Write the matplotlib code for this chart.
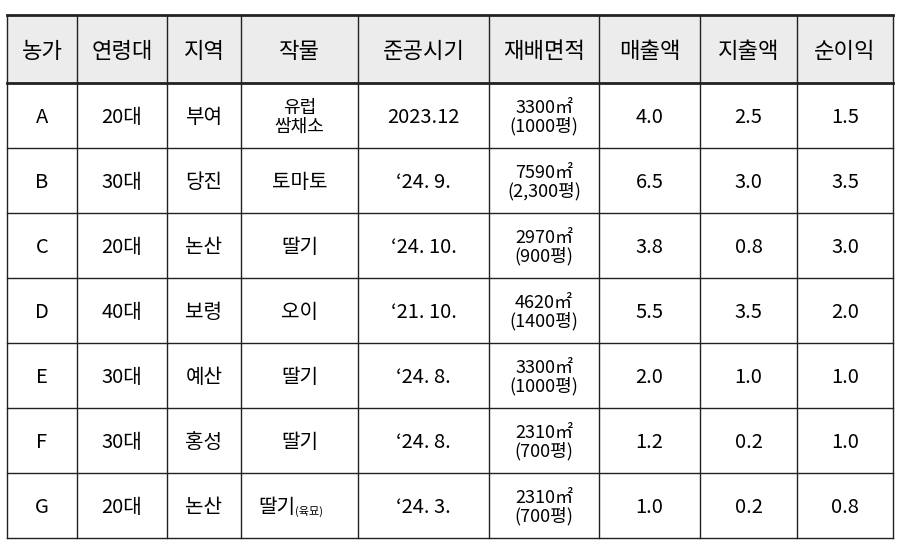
import matplotlib.pyplot as plt

plt.rcParams['font.family'] = ['Noto Sans CJK KR', 'DejaVu Sans']

headers = ['농가', '연령대', '지역', '작물', '준공시기', '재배면적', '매출액', '지출액', '순이익']
farms = ['A', 'B', 'C', 'D', 'E', 'F', 'G']
ages = ['20대', '30대', '20대', '40대', '30대', '30대', '20대']
regions = ['부여', '당진', '논산', '보령', '예산', '홍성', '논산']
crops = ['유럽\n쌈채소', '토마토', '딸기', '오이', '딸기', '딸기', '딸기']
dates = ['2023.12', '‘24. 9.', '‘24. 10.', '‘21. 10.', '‘24. 8.', '‘24. 8.', '‘24. 3.']
areas = ['3300㎡\n(1000평)', '7590㎡\n(2,300평)', '2970㎡\n(900평)', '4620㎡\n(1400평)',
         '3300㎡\n(1000평)', '2310㎡\n(700평)', '2310㎡\n(700평)']
sales = ['4.0', '6.5', '3.8', '5.5', '2.0', '1.2', '1.0']
costs = ['2.5', '3.0', '0.8', '3.5', '1.0', '0.2', '0.2']
profits = ['1.5', '3.5', '3.0', '2.0', '1.0', '1.0', '0.8']

cols = [7, 77, 167, 241, 358, 489, 599, 700, 797, 893]
rows = [15, 83, 148, 213, 278, 343, 408, 473, 538]

fig = plt.figure(figsize=(8.99, 5.46), dpi=100)
ax = fig.add_axes([0, 0, 1, 1])
ax.set_xlim(0, 899)
ax.set_ylim(546, 0)
ax.axis('off')

ax.fill_between([cols[0], cols[-1]], rows[0], rows[1], color='#ececec', zorder=0)

for x in cols:
    ax.plot([x, x], [rows[0], rows[-1]], color='#222222', lw=1.0)
for i, y in enumerate(rows):
    lw = 2.0 if i in (0, 1) else 1.0
    ax.plot([cols[0], cols[-1]], [y, y], color='#222222', lw=lw)

def cx(j):
    return (cols[j] + cols[j + 1]) / 2

def cy(i):
    return (rows[i] + rows[i + 1]) / 2 + 2

for j, h in enumerate(headers):
    ax.text(cx(j), cy(0), h, ha='center', va='center', fontsize=16)

columns = [farms, ages, regions, crops, dates, areas, sales, costs, profits]
for j, col in enumerate(columns):
    for i, val in enumerate(col):
        if j == 3 and i == 6:
            ax.text(cx(j) - 4, cy(i + 1), val, ha='right', va='center', fontsize=14.5)
            ax.text(cx(j) - 4, cy(i + 1) + 4, '(육묘)', ha='left', va='center', fontsize=8)
            continue
        fs = 13 if '\n' in val else 14.5
        ax.text(cx(j), cy(i + 1), val, ha='center', va='center', fontsize=fs,
                linespacing=1.0)

fig.savefig('out.png', dpi=100)
